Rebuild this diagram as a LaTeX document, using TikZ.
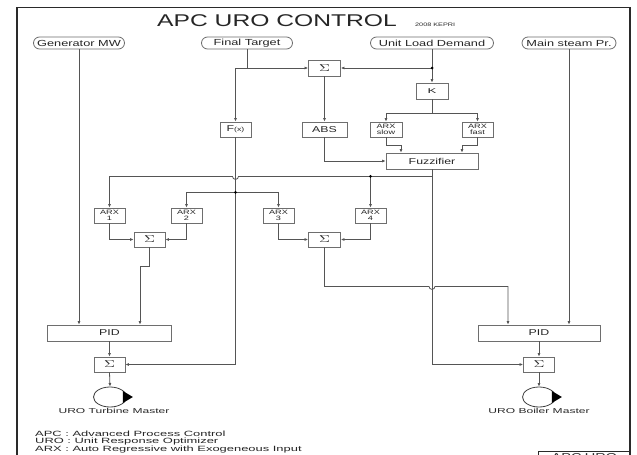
\documentclass[tikz,border=0pt]{standalone}
\usepackage{fontspec}
\usepackage{graphicx}
\newfontfamily\wfont{Liberation Sans}[FakeStretch=1.45]
\newfontfamily\lfont{Liberation Sans}[FakeStretch=1.7]
\usetikzlibrary{arrows.meta,calc,shapes.geometric}
\definecolor{ln}{HTML}{555555}
\definecolor{bx}{HTML}{6E6E6E}
\definecolor{fr}{HTML}{2A2A2A}
\newcommand\mysig{{\fontsize{10}{10}\selectfont\scalebox{1.5}[1]{$\Sigma$}}}
\newcommand\myk{{\fontsize{7}{7}\selectfont\scalebox{1.3}[1]{K}}}
\begin{document}
\begin{tikzpicture}[x=1pt,y=-1pt,
  blk/.style={draw=bx, line width=0.8pt, fill=white, inner sep=0pt, minimum height=15pt, minimum width=31pt, text=black!85, font=\wfont\fontsize{8.5}{8.5}\selectfont},
  arxb/.style={blk, align=center, font=\wfont\fontsize{6.3}{6.5}\selectfont},
  inp/.style={draw=bx, line width=0.8pt, rounded corners=6pt, minimum height=12pt, inner sep=0pt, text=black!85, font=\wfont\fontsize{8.8}{9}\selectfont},
  wire/.style={draw=ln, line width=0.8pt},
  arr/.style={wire, -{Latex[length=3.5pt,width=3pt]}},
  jdot/.style={circle, fill=black, inner sep=0pt, minimum size=3pt},
  outc/.style={draw=black!75, line width=0.8pt, ellipse, minimum width=33pt, minimum height=20pt, inner sep=0pt},
  lbl/.style={inner sep=0pt, text=black!85}
]
\useasboundingbox (0,0) rectangle (637,455);
\clip (0,0) rectangle (637,455);
\fill[white] (0,0) rectangle (637,455);

% frame
\draw[fr, line width=1pt] (17,7) -- (630,7);
\draw[fr, line width=2pt] (17,7) -- (17,470);
\draw[fr, line width=2pt] (630,7) -- (630,470);

% title
\node[lbl, anchor=base west, font=\wfont\fontsize{17}{17}\selectfont] (title) at (157,27) {APC URO CONTROL};
\node[lbl, anchor=base west, font=\wfont\fontsize{5}{5}\selectfont] (kepri) at (415,26.5) {2008 KEPRI};

% inputs
\node[inp, minimum width=91pt] (gen) at (79,43) {Generator MW};
\node[inp, minimum width=91pt] (ft) at (247,43) {Final Target};
\node[inp, minimum width=123pt] (uld) at (432,43) {Unit Load Demand};
\node[inp, minimum width=94pt] (msp) at (569,43) {Main steam Pr.};

% blocks
\node[blk, minimum width=32pt, minimum height=16pt] (sumT) at (324.5,68) {\mysig};
\node[blk, minimum width=32pt, minimum height=16pt] (K) at (432,91) {\myk};
\node[blk] (Fx) at (235.5,129.5) {F{\fontsize{6}{6}\selectfont(x)}};
\node[blk, minimum width=45pt] (abs) at (324.5,129.5) {ABS};
\node[arxb, minimum width=32pt] (as) at (386,129.5) {ARX\\slow};
\node[arxb] (af) at (477.5,129.5) {ARX\\fast};
\node[blk, minimum width=92pt, minimum height=16pt] (fz) at (432,161) {Fuzzifier};
\node[arxb] (a1) at (109.5,215.5) {ARX\\1};
\node[arxb] (a2) at (186.5,215.5) {ARX\\2};
\node[arxb] (a3) at (278.5,215.5) {ARX\\3};
\node[arxb] (a4) at (370.5,215.5) {ARX\\4};
\node[blk] (sum1) at (149.5,239.5) {\mysig};
\node[blk, minimum width=32pt] (sum2) at (324.5,239.5) {\mysig};
\node[blk, minimum width=124pt, minimum height=16pt] (pidL) at (109.5,333) {PID};
\node[blk, minimum width=122pt, minimum height=16pt] (pidR) at (539,333) {PID};
\node[blk] (sum3) at (109.5,364.5) {\mysig};
\node[blk] (sum4) at (539,364.5) {\mysig};

% outputs
\node[outc] (oL) at (110,397) {};
\node[outc] (oR) at (539,397) {};
\fill[black] ($(oL.east)+(-4,-6)$) -- ($(oL.east)+(6,0)$) -- ($(oL.east)+(-4,6)$) -- cycle;
\fill[black] ($(oR.east)+(-4,-6)$) -- ($(oR.east)+(6,0)$) -- ($(oR.east)+(-4,6)$) -- cycle;
\node[lbl, font=\lfont\fontsize{7.1}{7.5}\selectfont] (lt) at (114,411) {URO Turbine Master};
\node[lbl, font=\lfont\fontsize{7.1}{7.5}\selectfont] (lb) at (539,411) {URO Boiler Master};

% legend
\node[lbl, anchor=base west, font=\lfont\fontsize{7.6}{7.5}\selectfont] (leg1) at (35,436) {APC : Advanced Process Control};
\node[lbl, anchor=base west, font=\lfont\fontsize{7.6}{7.5}\selectfont] (leg2) at (35,443.5) {URO : Unit Response Optimizer};
\node[lbl, anchor=base west, font=\lfont\fontsize{7.6}{7.5}\selectfont] (leg3) at (35,451) {ARX : Auto Regressive with Exogeneous Input};

% APC URO box
\node[draw=fr, line width=0.8pt, anchor=north west, inner xsep=0pt, inner ysep=2pt, text height=7pt, text depth=11pt, text width=92pt, align=center, text=black!85, font=\wfont\fontsize{10}{10}\selectfont] (apc) at (538,451) {APC URO};

% connectors
\draw[arr] (gen.south) -- (gen.south |- pidL.north);

\coordinate (jft) at (Fx.north |- sumT.west);
\draw[wire] (ft.south) -- (ft.south |- sumT.west);
\draw[arr] (jft) -- (sumT.west);
\draw[arr] (jft) -- (Fx.north);

\coordinate (juld) at (uld.south |- sumT.east);
\draw[arr] (uld.south) -- (K.north);
\draw[arr] (juld) -- (sumT.east);
\node[jdot] (d1) at (juld) {};

\draw[arr] (sumT.south) -- (abs.north);

\coordinate (jk) at ($(K.south)+(0,14)$);
\draw[wire] (K.south) -- (jk);
\draw[arr] (jk) -| (as.north);
\draw[arr] (jk) -| (af.north);

\draw[arr] (as.south) -- ++(0,8) -| ($(fz.north)+(-31,0)$);
\draw[arr] (af.south) -- ++(0,8) -| ($(fz.north)+(30,0)$);
\draw[arr] (abs.south) |- (fz.west);

\draw[arr] (fz.south) |- (sum4.west);

\coordinate (jfz) at ($(fz.south)+(0,7)$);
\draw[arr] (jfz) -- ($(Fx.south |- jfz)+(3,0)$) arc[start angle=0, end angle=-180, radius=3pt] -- (a1.north |- jfz) -- (a1.north);
\coordinate (j4) at (a4.north |- jfz);
\draw[arr] (j4) -- (a4.north);
\node[jdot] (d2) at (j4) {};

\draw[arr] (Fx.south) |- (sum3.east);
\coordinate (jfx) at ($(Fx.south)+(0,55)$);
\draw[arr] (jfx) -| (a2.north);
\draw[arr] (jfx) -| (a3.north);
\node[jdot] (d3) at (jfx) {};

\draw[arr] (a1.south) |- (sum1.west);
\draw[arr] (a2.south) |- (sum1.east);
\draw[arr] (a3.south) |- (sum2.west);
\draw[arr] (a4.south) |- (sum2.east);

\draw[arr] (sum1.south) -- ++(0,19) -| ($(pidL.north)+(30.5,0)$);

\coordinate (h2) at ($(sum2.south)+(0,39)$);
\coordinate (pr) at ($(pidR.north)+(-31,0)$);
\draw[arr] (sum2.south) -- (h2) -- ($(h2 -| fz.south)+(-3,0)$) arc[start angle=180, end angle=360, radius=3pt] -| (pr);

\draw[arr] (msp.south) -- (msp.south |- pidR.north);

\draw[arr] (pidL.south) -- (sum3.north);
\draw[arr] (pidR.south) -- (sum4.north);
\draw[arr] (sum3.south) -- (oL.north);
\draw[arr] (sum4.south) -- (oR.north);
\end{tikzpicture}
\end{document}
